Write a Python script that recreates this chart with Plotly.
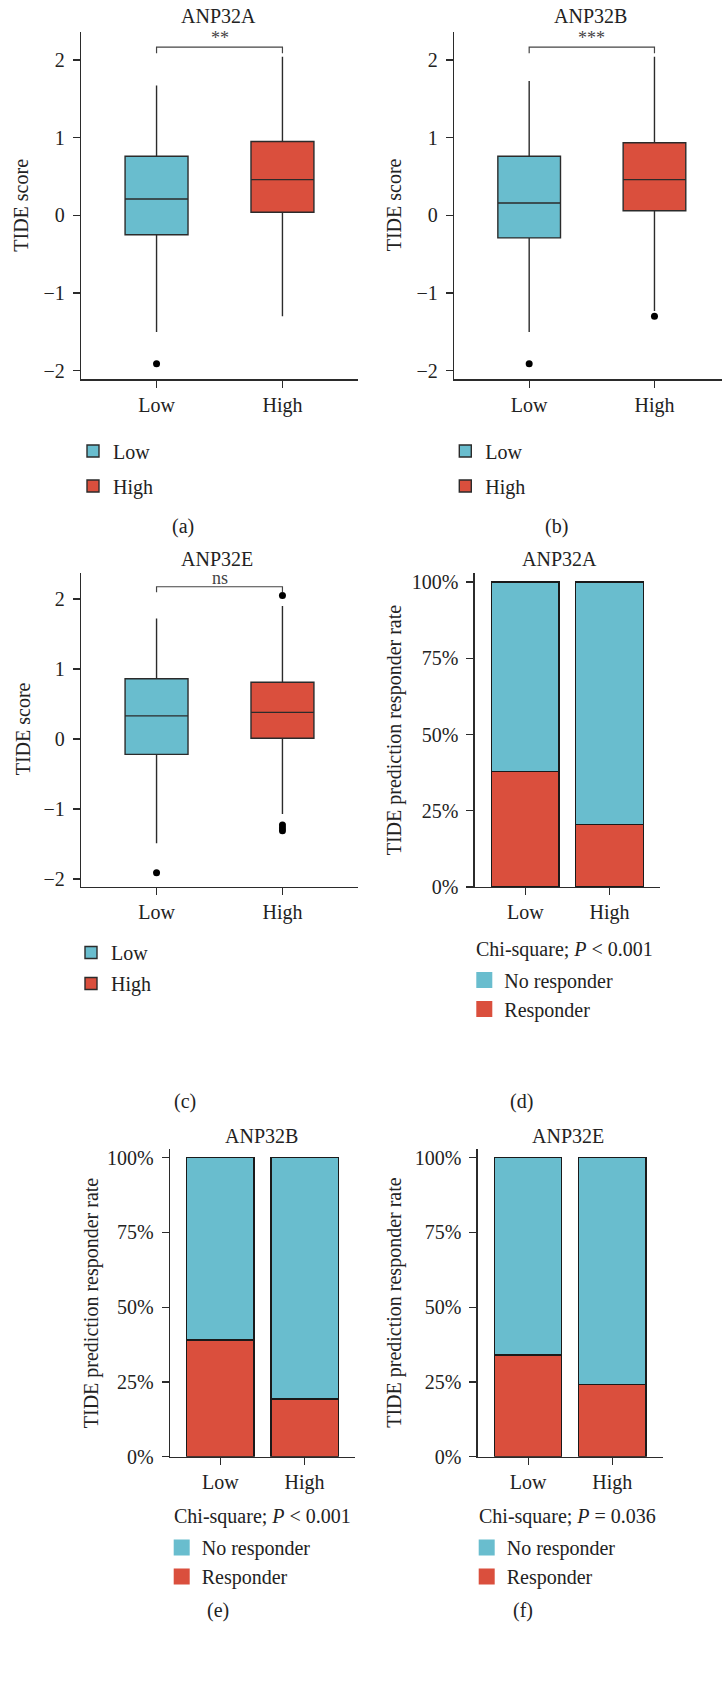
import plotly.graph_objects as go

# ---------------- data ----------------
box_genes = ["ANP32A", "ANP32B", "ANP32E"]
groups = ["Low", "High"]
sig_labels = ["**", "***", "ns"]

low_q1 = [-0.25, -0.29, -0.22]
low_median = [0.21, 0.16, 0.33]
low_q3 = [0.76, 0.76, 0.86]
low_lowerfence = [-1.50, -1.50, -1.49]
low_upperfence = [1.67, 1.73, 1.72]
low_outliers = [[-1.91], [-1.91], [-1.91]]

high_q1 = [0.04, 0.06, 0.01]
high_median = [0.46, 0.46, 0.38]
high_q3 = [0.95, 0.935, 0.81]
high_lowerfence = [-1.30, -1.23, -1.07]
high_upperfence = [2.04, 2.04, 1.90]
high_outliers = [[], [-1.30], [2.05, -1.23, -1.27, -1.31]]

bar_genes = ["ANP32A", "ANP32B", "ANP32E"]
responder_low = [0.378, 0.390, 0.340]
responder_high = [0.206, 0.193, 0.242]
chi_p_text = ["<i>P</i> < 0.001", "<i>P</i> < 0.001", "<i>P</i> = 0.036"]

yticks_box = [-2, -1, 0, 1, 2]
yticks_bar = [0, 0.25, 0.5, 0.75, 1.0]
captions = ["(a)", "(b)", "(c)", "(d)", "(e)", "(f)"]

# ---------------- style ----------------
W, H = 722, 1692
BLUE = "#69BDCE"
RED = "#DA4F3D"
AX = "#2b2b2b"
TXT = "#222222"
FONT = "Liberation Serif, 'Times New Roman', serif"
FS = 20


def fx(p):
    return p / W


def fy(p):
    return 1 - p / H


fig = go.Figure()

# panel geometry (pixels)
box_panels = [
    dict(ax="", x0=81, x1=358, y0=32, y1=379.3, xr=[-0.6, 1.6], yr=[-2.11, 2.36],
         title=(218, 16), ytitle=(20.7, 205), leg=(73, 431.5), gap=6, cap=(182.7, 526.7)),
    dict(ax="2", x0=454, x1=722, y0=32, y1=379.3, xr=[-0.6, 1.539], yr=[-2.11, 2.36],
         title=(590, 16), ytitle=(394.3, 205), leg=(445.3, 431.5), gap=6, cap=(556.7, 526.7)),
    dict(ax="3", x0=81, x1=358, y0=573.3, y1=887, xr=[-0.6, 1.6], yr=[-2.114, 2.367],
         title=(217, 559.3), ytitle=(23.3, 729), leg=(71, 933), gap=2, cap=(185, 1101.7)),
]
bar_panels = [
    dict(ax="4", x0=474.7, x1=660, y0=573.3, y1=887, yr=[0, 1.0285],
         title=(559.3, 559.3), ytitle=(394.3, 730), chi=(474.3, 949.3),
         leg=(464.3, 960.5), cap=(521.7, 1101.7)),
    dict(ax="5", x0=170, x1=355, y0=1149.3, y1=1456.7, yr=[0, 1.028],
         title=(261, 1136), ytitle=(91.7, 1302.5), chi=(171.7, 1516.7),
         leg=(161.7, 1528), cap=(218.3, 1610)),
    dict(ax="6", x0=477.7, x1=662.7, y0=1149.3, y1=1456.7, yr=[0, 1.028],
         title=(567.7, 1136), ytitle=(394.3, 1302.5), chi=(476.7, 1516.7),
         leg=(466.7, 1528), cap=(523.3, 1610)),
]

annotations = []
layout_axes = {}
legends = {}


def axis_common():
    return dict(showline=True, linecolor=AX, linewidth=1.3, ticks="outside",
                ticklen=7, tickwidth=1.3, tickcolor=AX, showgrid=False,
                zeroline=False, tickfont=dict(family=FONT, size=FS, color=TXT),
                fixedrange=True, automargin=False)


def add_text(x, y, text, size=FS, angle=0, xanchor="center", yanchor="middle"):
    annotations.append(dict(x=fx(x), y=fy(y), xref="paper", yref="paper",
                            text=text, showarrow=False, textangle=angle,
                            xanchor=xanchor, yanchor=yanchor,
                            font=dict(family=FONT, size=size, color=TXT)))


legend_index = 1
for i, p in enumerate(box_panels):
    xa = "x" + p["ax"]
    ya = "y" + p["ax"]
    leg_name = "legend" if legend_index == 1 else "legend%d" % legend_index
    legend_index += 1

    stats = [
        ("Low", BLUE, low_q1[i], low_median[i], low_q3[i], low_lowerfence[i], low_upperfence[i], low_outliers[i]),
        ("High", RED, high_q1[i], high_median[i], high_q3[i], high_lowerfence[i], high_upperfence[i], high_outliers[i]),
    ]
    for g, col, q1, med, q3, lf, uf, outs in stats:
        fig.add_trace(go.Box(
            x=[g], q1=[q1], median=[med], q3=[q3], lowerfence=[lf], upperfence=[uf],
            name=g, fillcolor=col, line=dict(color=AX, width=1.4), width=0.5,
            whiskerwidth=0, boxpoints=False, xaxis=xa, yaxis=ya, legend=leg_name,
            legendgroup=leg_name + g, showlegend=True, hoverinfo="skip"))
        if outs:
            fig.add_trace(go.Scatter(
                x=[g] * len(outs), y=outs, mode="markers",
                marker=dict(color="black", size=7), showlegend=False,
                xaxis=xa, yaxis=ya, hoverinfo="skip"))

    # significance bracket
    all_vals = [low_upperfence[i], high_upperfence[i]] + low_outliers[i] + high_outliers[i]
    top = max(all_vals) + 0.125
    fig.add_trace(go.Scatter(
        x=["Low", "Low", "High", "High"], y=[top - 0.08, top, top, top - 0.08],
        mode="lines", line=dict(color="#444444", width=1.2), showlegend=False,
        xaxis=xa, yaxis=ya, hoverinfo="skip"))
    annotations.append(dict(x=0.5, y=top, xref=xa, yref=ya, text=sig_labels[i],
                            showarrow=False, yanchor="bottom", yshift=-3,
                            font=dict(family=FONT, size=18, color="#444444")))

    xk = "xaxis" + p["ax"]
    yk = "yaxis" + p["ax"]
    xd = axis_common()
    xd.update(domain=[fx(p["x0"]), fx(p["x1"])], range=p["xr"], anchor=ya,
              type="category", categoryorder="array", categoryarray=groups)
    yd = axis_common()
    yd.update(domain=[fy(p["y1"]), fy(p["y0"])], range=p["yr"], anchor=xa,
              tickvals=yticks_box, ticklabelstandoff=4)
    layout_axes[xk] = xd
    layout_axes[yk] = yd

    add_text(*p["title"], box_genes[i])
    add_text(*p["ytitle"], "TIDE score", angle=-90)
    add_text(*p["cap"], captions[i])
    legends[leg_name] = dict(x=fx(p["leg"][0]), y=fy(p["leg"][1]), xanchor="left",
                             yanchor="top", orientation="v", traceorder="grouped",
                             tracegroupgap=p["gap"], bgcolor="rgba(0,0,0,0)",
                             font=dict(family=FONT, size=FS, color=TXT))

for j, p in enumerate(bar_panels):
    xa = "x" + p["ax"]
    ya = "y" + p["ax"]
    leg_name = "legend%d" % legend_index
    legend_index += 1

    resp = [responder_low[j], responder_high[j]]
    nores = [1 - v for v in resp]
    fig.add_trace(go.Bar(x=groups, y=resp, name="Responder", marker=dict(color=RED, line=dict(color="#1a1a1a", width=1.3)),
                         width=0.8, xaxis=xa, yaxis=ya, showlegend=False, hoverinfo="skip"))
    fig.add_trace(go.Bar(x=groups, y=nores, name="No responder", marker=dict(color=BLUE, line=dict(color="#1a1a1a", width=1.3)),
                         width=0.8, xaxis=xa, yaxis=ya, showlegend=False, hoverinfo="skip"))
    # legend keys (no outline, like the reference)
    for nm, col in [("No responder", BLUE), ("Responder", RED)]:
        fig.add_trace(go.Scatter(x=[None], y=[None], mode="markers", name=nm,
                                 marker=dict(symbol="square", size=16, color=col, line=dict(width=0)),
                                 xaxis=xa, yaxis=ya, legend=leg_name, showlegend=True))

    xk = "xaxis" + p["ax"]
    yk = "yaxis" + p["ax"]
    xd = axis_common()
    xd.update(domain=[fx(p["x0"]), fx(p["x1"])], range=[-0.6, 1.6], anchor=ya,
              type="category", categoryorder="array", categoryarray=groups)
    yd = axis_common()
    yd.update(domain=[fy(p["y1"]), fy(p["y0"])], range=p["yr"], anchor=xa,
              tickvals=yticks_bar, tickformat=".0%", ticklabelstandoff=4)
    layout_axes[xk] = xd
    layout_axes[yk] = yd

    add_text(*p["title"], bar_genes[j])
    add_text(*p["ytitle"], "TIDE prediction responder rate", angle=-90)
    add_text(p["chi"][0], p["chi"][1], "Chi-square; " + chi_p_text[j], xanchor="left")
    add_text(*p["cap"], captions[j + 3])
    legends[leg_name] = dict(x=fx(p["leg"][0]), y=fy(p["leg"][1]), xanchor="left",
                             yanchor="top", orientation="v", traceorder="normal",
                             tracegroupgap=0, bgcolor="rgba(0,0,0,0)",
                             font=dict(family=FONT, size=FS, color=TXT))

fig.update_layout(
    width=W, height=H, margin=dict(l=0, r=0, t=0, b=0, pad=0, autoexpand=False),
    paper_bgcolor="white", plot_bgcolor="white",
    barmode="stack", boxmode="overlay", bargap=0.2,
    font=dict(family=FONT, size=FS, color=TXT),
    annotations=annotations, showlegend=True,
    **layout_axes, **legends)

page_fix = (
    "document.documentElement.style.margin='0';"
    "document.documentElement.style.padding='0';"
    "document.documentElement.style.overflow='hidden';"
    "document.body.style.margin='0';"
    "document.body.style.padding='0';"
    "document.body.style.overflow='hidden';"
)
fig.write_html("out.html", config={"displayModeBar": False, "staticPlot": True},
               post_script=page_fix)
